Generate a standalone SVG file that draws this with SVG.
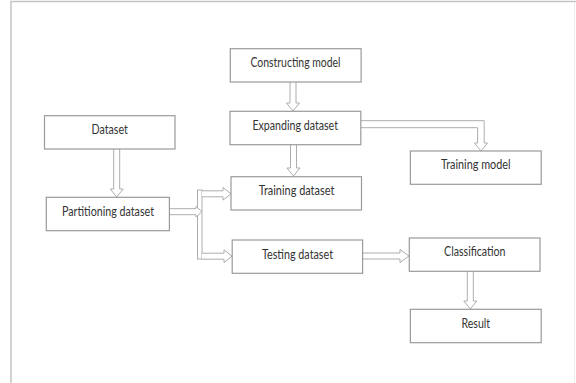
<svg xmlns="http://www.w3.org/2000/svg" width="576" height="383" viewBox="0 0 576 383">
<style>
.box{fill:#fff;stroke:#9a9a9a;stroke-width:1.2}
.arr{fill:#fff;stroke:#adadad;stroke-width:1}
.lbl{font-family:Lato,"Open Sans","Liberation Sans",sans-serif;font-size:13.5px;fill:#333;text-anchor:middle}
.frame{stroke:#c4c4c4;stroke-width:1.5;fill:none}
</style>
<rect width="576" height="383" fill="#fff"/>
<path class="frame" d="M11,383 V1.5 H576"/>
<path d="M574.5,2 V383" stroke="#ececec" stroke-width="1" fill="none"/>
<g id="connectors">
<path class="arr" d="M290,82 V103 H286.5 L293,111 L299.5,103 H296 V82"/>
<path class="arr" d="M290.5,144.7 V168 H287 L293.5,176 L300,168 H296.5 V144.7"/>
<path class="arr" d="M113.7,149 V189 H110.2 L116.7,197 L123.2,189 H119.7 V149"/>
<path class="arr" d="M467.3,271.3 V301 H463.8 L470.3,309 L476.8,301 H473.3 V271.3"/>
<path class="arr" d="M361,120.7 H484.2 V143 H487.5 L481,151 L474.5,143 H477.6 V127.7 H361"/>
<path class="arr" d="M362.6,253 H400 V249.5 L409,256 L400,262.5 V259 H362.6"/>
<rect class="arr" x="197.5" y="190" width="4.5" height="69"/>
<path class="arr" d="M169.4,208.7 H196 V206.5 L202,211.7 L196,216.9 V214.7 H169.4"/>
<path class="arr" d="M202,190.8 H223 V187.5 L231,193.8 L223,200.1 V196.8 H202"/>
<path class="arr" d="M202,253.2 H224 V249.9 L232,256.2 L224,262.5 V259.2 H202"/>
</g>
<g id="constructing-model"><rect class="box" x="230.3" y="48.7" width="130.8" height="33.3"/><text class="lbl" x="295.5" y="67" textLength="90" lengthAdjust="spacingAndGlyphs">Constructing model</text></g>
<g id="expanding-dataset"><rect class="box" x="230" y="111.3" width="130.8" height="33.4"/><text class="lbl" x="295.2" y="129.5" textLength="85.6" lengthAdjust="spacingAndGlyphs">Expanding dataset</text></g>
<g id="dataset"><rect class="box" x="44.5" y="115.7" width="130.5" height="33.3"/><text class="lbl" x="109.7" y="134.3" textLength="36.4" lengthAdjust="spacingAndGlyphs">Dataset</text></g>
<g id="training-model"><rect class="box" x="410.4" y="151" width="130.8" height="33.3"/><text class="lbl" x="475.8" y="169.3" textLength="69.7" lengthAdjust="spacingAndGlyphs">Training model</text></g>
<g id="training-dataset"><rect class="box" x="231" y="176.7" width="130.5" height="33.3"/><text class="lbl" x="296.5" y="195.3" textLength="75.7" lengthAdjust="spacingAndGlyphs">Training dataset</text></g>
<g id="partitioning-dataset"><rect class="box" x="46.3" y="197.3" width="123.1" height="33.4"/><text class="lbl" x="108" y="216" textLength="92" lengthAdjust="spacingAndGlyphs">Partitioning dataset</text></g>
<g id="testing-dataset"><rect class="box" x="232.2" y="240" width="130.4" height="33.3"/><text class="lbl" x="297.5" y="258.6" textLength="71" lengthAdjust="spacingAndGlyphs">Testing dataset</text></g>
<g id="classification"><rect class="box" x="409.3" y="238" width="130.7" height="33.3"/><text class="lbl" x="474.8" y="256.3" textLength="61.5" lengthAdjust="spacingAndGlyphs">Classification</text></g>
<g id="result"><rect class="box" x="410.4" y="309.3" width="130.8" height="33.4"/><text class="lbl" x="475.8" y="327.6" textLength="28.6" lengthAdjust="spacingAndGlyphs">Result</text></g>
</svg>
